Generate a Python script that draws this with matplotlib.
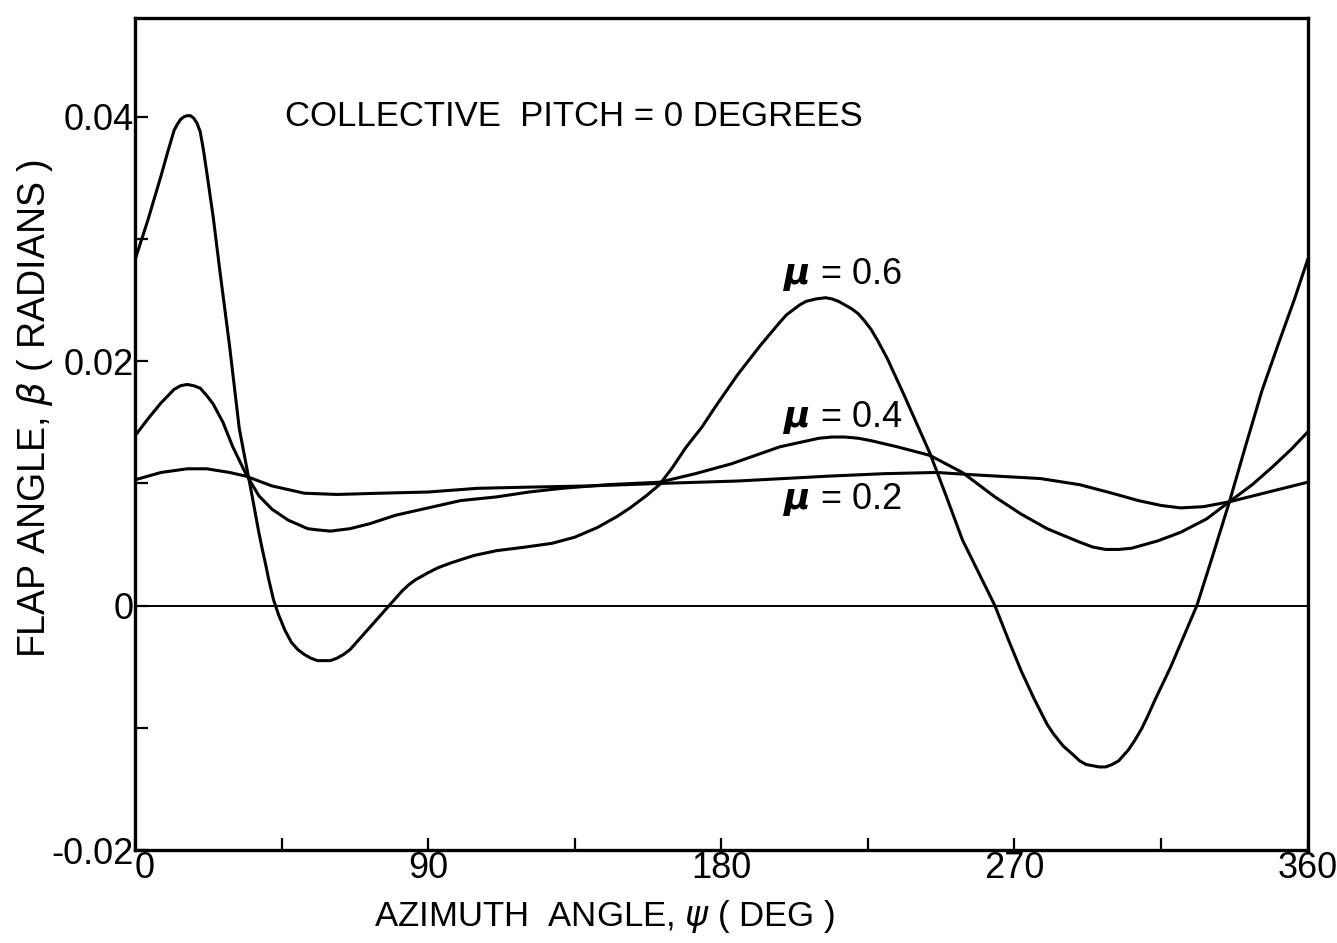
import numpy as np
import matplotlib.pyplot as plt

plt.rcParams['font.family'] = ['Liberation Sans', 'DejaVu Sans']
plt.rcParams['mathtext.fontset'] = 'dejavusans'

# mu = 0.6 : azimuth (deg), flap angle (rad)
psi_06 = [0, 4, 8, 10, 12, 13, 14, 15, 16, 17, 18, 19, 20, 21, 22, 24, 26, 29, 32,
          35, 36, 38, 39, 40, 41, 42.5, 44, 46, 48, 50, 52, 54, 56, 58, 60, 62, 64,
          66, 68, 70, 72, 74, 76, 78, 80, 82, 84, 86, 88, 90, 93, 97, 104, 111, 120,
          128, 135, 142, 148, 152, 157, 161, 165, 169, 174, 178.5, 185, 192, 198,
          200, 204, 206, 209, 212, 214, 216, 218, 220, 222, 224, 226, 228, 231, 236,
          240, 244, 249, 254, 259, 264, 268, 272, 276, 280, 282, 285, 288, 290, 292,
          294, 296, 298, 300, 302, 303, 305, 307, 309, 311, 313, 318, 322, 326, 331,
          336, 341, 346, 351, 356, 360]
beta_06 = [0.0283, 0.0316, 0.0352, 0.0371, 0.0389, 0.0394, 0.0398, 0.0400, 0.0401,
           0.0401, 0.0399, 0.0395, 0.0388, 0.0373, 0.0355, 0.0318, 0.0275, 0.0213,
           0.0145, 0.0103, 0.0089, 0.0060, 0.0047, 0.0035, 0.0022, 0.0005, -0.0007,
           -0.0020, -0.0030, -0.0036, -0.0040, -0.0043, -0.0045, -0.0045, -0.0045,
           -0.0043, -0.0040, -0.0036, -0.0030, -0.0024, -0.0018, -0.0012, -0.0006,
           0.0000, 0.0006, 0.0012, 0.0017, 0.0021, 0.0024, 0.0027, 0.0031, 0.0035,
           0.0041, 0.0045, 0.0048, 0.0051, 0.0056, 0.0064, 0.0073, 0.0080, 0.0090,
           0.0099, 0.0113, 0.0129, 0.0146, 0.0164, 0.0189, 0.0213, 0.0232, 0.0238,
           0.0246, 0.0249, 0.0251, 0.0252, 0.0251, 0.0249, 0.0246, 0.0243, 0.0239,
           0.0233, 0.0226, 0.0217, 0.0202, 0.0173, 0.0149, 0.0125, 0.0090, 0.0054,
           0.0027, 0.0000, -0.0027, -0.0053, -0.0076, -0.0097, -0.0105, -0.0115,
           -0.0122, -0.0127, -0.0130, -0.0131, -0.0132, -0.0132, -0.0130, -0.0127,
           -0.0124, -0.0118, -0.0110, -0.0101, -0.0090, -0.0078, -0.0050, -0.0025,
           0.0000, 0.0042, 0.0085, 0.0131, 0.0176, 0.0214, 0.0251, 0.0283]

# mu = 0.4
psi_04 = [0, 4, 8, 12, 14, 16, 18, 20, 22, 24, 27, 30, 34, 38, 42, 47, 53, 56, 60,
          63, 66, 72, 80, 90, 100, 111, 121, 131, 145, 161, 172, 183, 198, 210, 214,
          218, 222, 226, 234, 244, 254, 264, 272, 280, 290, 294, 298, 302, 306, 310,
          314, 321, 329, 336, 343, 349, 355, 360]
beta_04 = [0.0139, 0.0153, 0.0166, 0.0177, 0.0180, 0.0181, 0.0180, 0.0178, 0.0172,
           0.0165, 0.0150, 0.0130, 0.0108, 0.0090, 0.0079, 0.0070, 0.0063, 0.0062,
           0.0061, 0.0062, 0.0063, 0.0067, 0.0074, 0.0080, 0.0086, 0.0089, 0.0093,
           0.0096, 0.0099, 0.0101, 0.0108, 0.0116, 0.0130, 0.0137, 0.0138, 0.0138,
           0.0137, 0.0135, 0.0130, 0.0123, 0.0109, 0.0089, 0.0075, 0.0063, 0.0052,
           0.0048, 0.0046, 0.0046, 0.0047, 0.0050, 0.0053, 0.0060, 0.0071, 0.0085,
           0.0099, 0.0113, 0.0128, 0.0142]

# mu = 0.2
psi_02 = [0, 8, 16, 22, 29, 34, 42, 52, 62, 75, 90, 105, 121, 140, 161, 185, 213,
          230, 246, 258, 278, 290, 300, 308, 315, 321, 328, 336, 348, 360]
beta_02 = [0.0103, 0.0109, 0.0112, 0.0112, 0.0109, 0.0106, 0.0098, 0.0092, 0.0091,
           0.0092, 0.0093, 0.0096, 0.0097, 0.0098, 0.0100, 0.0102, 0.0106, 0.0108,
           0.0109, 0.0107, 0.0104, 0.0099, 0.0092, 0.0086, 0.0082, 0.0080, 0.0081,
           0.0085, 0.0093, 0.0101]

x_ticks = [0, 45, 90, 135, 180, 225, 270, 315, 360]
x_labels = ['0', '', '90', '', '180', '', '270', '', '360']
y_ticks = [-0.02, -0.01, 0, 0.01, 0.02, 0.03, 0.04]
y_labels = ['-0.02', '', '0', '', '0.02', '', '0.04']

fig = plt.figure(figsize=(13.37, 9.43), dpi=100)
ax = fig.add_axes([0.101, 0.0986, 0.877, 0.8824])

ax.plot(psi_06, beta_06, color='black', lw=2.2)
ax.plot(psi_04, beta_04, color='black', lw=2.2)
ax.plot(psi_02, beta_02, color='black', lw=2.2)
ax.axhline(0, color='black', lw=1.4)

ax.set_xlim(0, 360)
ax.set_ylim(-0.02, 0.0481)
ax.set_xticks(x_ticks)
ax.set_xticklabels(x_labels)
ax.set_yticks(y_ticks)
ax.set_yticklabels(y_labels)
ax.tick_params(direction='in', length=9, width=1.6, labelsize=26, pad=1)
ax.get_xticklabels()[0].set_horizontalalignment('left')

for s in ax.spines.values():
    s.set_linewidth(2.4)

ax.text(46, 0.0400, 'COLLECTIVE  PITCH = 0 DEGREES', fontsize=25, va='center')
ax.text(199, 0.0271, r'$\boldsymbol{\mu}$ = 0.6', fontsize=26, va='center')
ax.text(199, 0.0154, r'$\boldsymbol{\mu}$ = 0.4', fontsize=26, va='center')
ax.text(199, 0.0087, r'$\boldsymbol{\mu}$ = 0.2', fontsize=26, va='center')

ax.set_xlabel(r'AZIMUTH  ANGLE, $\psi$ ( DEG )', fontsize=25)
ax.xaxis.set_label_coords(0.40, -0.058)
ax.set_ylabel(r'FLAP ANGLE, $\beta$ ( RADIANS )', fontsize=27)
ax.yaxis.set_label_coords(-0.068, 0.531)

fig.savefig('out.png', dpi=100)
